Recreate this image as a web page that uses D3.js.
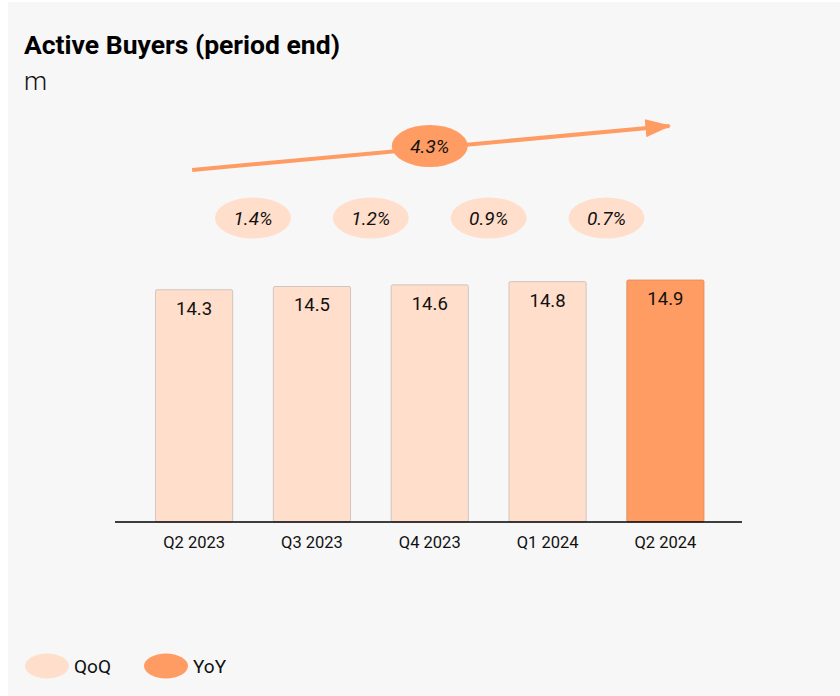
<!DOCTYPE html>
<html>
<head>
<meta charset="utf-8">
<script src="https://cdn.jsdelivr.net/npm/d3@7"></script>
<style>
  body { margin: 0; background: #fff; }
  text { font-family: Roboto, "Noto Sans", sans-serif; }
</style>
</head>
<body>
<script>
// chart data
const quarters = ["Q2 2023", "Q3 2023", "Q4 2023", "Q1 2024", "Q2 2024"];
const buyers = [14.3, 14.5, 14.6, 14.8, 14.9];
const qoqGrowth = ["1.4%", "1.2%", "0.9%", "0.7%"];
const yoyGrowth = "4.3%";
const legendItems = ["QoQ", "YoY"];

const LIGHT = "#ffdecb";
const DARK = "#ff9c63";

const W = 840, H = 696;
const svg = d3.select("body").append("svg")
  .attr("width", W)
  .attr("height", H);

// panel background
svg.append("rect")
  .attr("x", 8).attr("y", 2)
  .attr("width", W - 8).attr("height", H - 2)
  .attr("fill", "#f7f7f7");

// title
svg.append("text")
  .attr("x", 24).attr("y", 54)
  .attr("font-size", "26.5px")
  .attr("font-weight", "bold")
  .attr("fill", "#000")
  .text("Active Buyers (period end)");

svg.append("text")
  .attr("x", 24).attr("y", 90)
  .attr("font-size", "26px")
  .attr("font-weight", 300)
  .attr("fill", "#111")
  .text("m");

// scales
let x = d3.scaleBand()
  .domain(quarters)
  .range([135.5, 724])
  .paddingInner(0.345)
  .paddingOuter(0.17);

let y = d3.scaleLinear()
  .domain([0, d3.max(buyers)])
  .range([522, 280]);

// bars
svg.selectAll(".bar")
  .data(buyers)
  .enter()
  .append("rect")
  .attr("class", "bar")
  .attr("x", (d, i) => x(quarters[i]))
  .attr("y", d => y(d))
  .attr("width", x.bandwidth())
  .attr("height", d => y(0) - y(d))
  .attr("rx", 1.5)
  .attr("fill", (d, i) => i === buyers.length - 1 ? DARK : LIGHT)
  .attr("stroke", (d, i) => i === buyers.length - 1 ? "#d98a5e" : "#c4bdb8")
  .attr("stroke-width", 0.8);

svg.selectAll(".bar-label")
  .data(buyers)
  .enter()
  .append("text")
  .attr("class", "bar-label")
  .attr("x", (d, i) => x(quarters[i]) + x.bandwidth() / 2)
  .attr("y", d => y(d) + 25)
  .attr("text-anchor", "middle")
  .attr("font-size", "18.5px")
  .attr("fill", "#111")
  .text(d => d.toFixed(1));

// x axis
const xAxis = d3.axisBottom(x).tickSize(0).tickPadding(14);
const gx = svg.append("g")
  .attr("transform", "translate(0," + y(0) + ")")
  .call(xAxis);
gx.select(".domain").remove();
gx.selectAll("text")
  .attr("font-size", "16.5px")
  .attr("font-family", "Roboto, sans-serif")
  .attr("fill", "#111");

svg.append("line")
  .attr("x1", 115).attr("x2", 742)
  .attr("y1", y(0)).attr("y2", y(0))
  .attr("stroke", "#000")
  .attr("stroke-width", 1.3);

// QoQ bubbles between bars
const mid = i => (x(quarters[i]) + x(quarters[i + 1]) + x.bandwidth()) / 2;

svg.selectAll(".qoq")
  .data(qoqGrowth)
  .enter()
  .append("ellipse")
  .attr("class", "qoq")
  .attr("cx", (d, i) => mid(i))
  .attr("cy", 218)
  .attr("rx", 38)
  .attr("ry", 20.5)
  .attr("fill", LIGHT);

svg.selectAll(".qoq-label")
  .data(qoqGrowth)
  .enter()
  .append("text")
  .attr("class", "qoq-label")
  .attr("x", (d, i) => mid(i))
  .attr("y", 225)
  .attr("text-anchor", "middle")
  .attr("font-size", "19px")
  .attr("font-style", "italic")
  .attr("fill", "#111")
  .text(d => d);

// YoY arrow
const defs = svg.append("defs");
defs.append("marker")
  .attr("id", "head")
  .attr("viewBox", "0 0 26 18")
  .attr("refX", 24).attr("refY", 9)
  .attr("markerUnits", "userSpaceOnUse")
  .attr("markerWidth", 26).attr("markerHeight", 18)
  .attr("orient", "auto")
  .append("path")
  .attr("d", "M0,0 L26,9 L0,18 Z")
  .attr("fill", DARK);

const x0 = x(quarters[0]) + x.bandwidth() / 2 - 2;
const x1 = x(quarters[4]) + x.bandwidth() / 2 + 4;
svg.append("line")
  .attr("x1", x0).attr("y1", 170)
  .attr("x2", x1).attr("y2", 126)
  .attr("stroke", DARK)
  .attr("stroke-width", 4)
  .attr("marker-end", "url(#head)");

const yoyX = x(quarters[2]) + x.bandwidth() / 2;
svg.append("ellipse")
  .attr("cx", yoyX).attr("cy", 146)
  .attr("rx", 38).attr("ry", 21)
  .attr("fill", DARK);

svg.append("text")
  .attr("x", yoyX).attr("y", 153)
  .attr("text-anchor", "middle")
  .attr("font-size", "19px")
  .attr("font-style", "italic")
  .attr("fill", "#111")
  .text(yoyGrowth);

// legend
const legend = svg.selectAll(".legend")
  .data(legendItems)
  .enter()
  .append("g")
  .attr("class", "legend")
  .attr("transform", (d, i) => "translate(" + (47 + i * 119) + ",666)");

legend.append("ellipse")
  .attr("rx", 22).attr("ry", 12.5)
  .attr("fill", (d, i) => i === 0 ? LIGHT : DARK);

legend.append("text")
  .attr("x", 27).attr("y", 7)
  .attr("font-size", "19px")
  .attr("fill", "#111")
  .text(d => d);
</script>
</body>
</html>
